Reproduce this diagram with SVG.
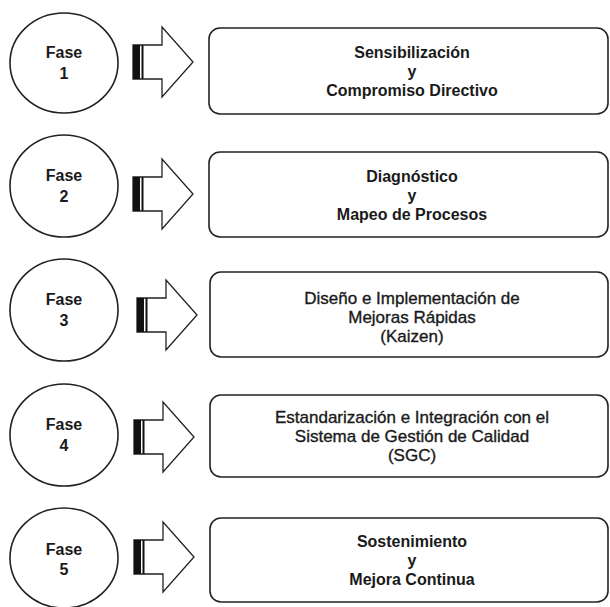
<svg xmlns="http://www.w3.org/2000/svg" width="610" height="607" viewBox="0 0 610 607">
<defs>
<style>
.c{fill:#fff;stroke:#222;stroke-width:1.6}
.b{fill:#fff;stroke:#222;stroke-width:1.6}
.a{fill:#fff;stroke:#222;stroke-width:1.3;stroke-linejoin:miter}
.t{font-family:"Liberation Sans",Arial,sans-serif;font-weight:bold;font-size:16px;fill:#1a1a1a;text-anchor:middle}
.r{font-family:"Liberation Sans",Arial,sans-serif;font-weight:normal;font-size:17px;fill:#1a1a1a;stroke:#1a1a1a;stroke-width:0.35;text-anchor:middle}
</style>
<g id="arrowShape">
<path class="a" d="M0,-17 H29 V-35 L60,0 L29,35 V17 H0 Z"/>
<rect x="0" y="-17" width="7" height="34" fill="#111"/>
<rect x="8.5" y="-17" width="2" height="34" fill="#111"/>
</g>
</defs>
<g id="connectors">
<use href="#arrowShape" transform="translate(133,62)"/>
<use href="#arrowShape" transform="translate(133,194)"/>
<use href="#arrowShape" transform="translate(137,315)"/>
<use href="#arrowShape" transform="translate(134,437)"/>
<use href="#arrowShape" transform="translate(134,557)"/>
</g>
<g id="phase1">
<ellipse class="c" cx="64" cy="63" rx="54" ry="50"/>
<text class="t" x="64" y="58">Fase</text>
<text class="t" x="64" y="79">1</text>
</g>
<g id="step1">
<rect class="b" x="209" y="28" width="399" height="86" rx="11"/>
<text class="t" x="412" y="58">Sensibilización</text>
<text class="t" x="412" y="77">y</text>
<text class="t" x="412" y="96">Compromiso Directivo</text>
</g>
<g id="phase2">
<ellipse class="c" cx="64" cy="186" rx="54" ry="51"/>
<text class="t" x="64" y="181">Fase</text>
<text class="t" x="64" y="202">2</text>
</g>
<g id="step2">
<rect class="b" x="209" y="152" width="399" height="85" rx="11"/>
<text class="t" x="412" y="182">Diagnóstico</text>
<text class="t" x="412" y="201">y</text>
<text class="t" x="412" y="220">Mapeo de Procesos</text>
</g>
<g id="phase3">
<ellipse class="c" cx="64" cy="310" rx="54" ry="51"/>
<text class="t" x="64" y="305">Fase</text>
<text class="t" x="64" y="326">3</text>
</g>
<g id="step3">
<rect class="b" x="210" y="272" width="398" height="85" rx="11"/>
<text class="r" x="412" y="304">Diseño e Implementación de</text>
<text class="r" x="412" y="323">Mejoras Rápidas</text>
<text class="r" x="412" y="342">(Kaizen)</text>
</g>
<g id="phase4">
<ellipse class="c" cx="64" cy="435" rx="54" ry="51"/>
<text class="t" x="64" y="430">Fase</text>
<text class="t" x="64" y="451">4</text>
</g>
<g id="step4">
<rect class="b" x="210" y="395" width="398" height="82" rx="11"/>
<text class="r" x="412" y="423">Estandarización e Integración con el</text>
<text class="r" x="412" y="442">Sistema de Gestión de Calidad</text>
<text class="r" x="412" y="461">(SGC)</text>
</g>
<g id="phase5">
<ellipse class="c" cx="64" cy="558" rx="54" ry="50"/>
<text class="t" x="64" y="555">Fase</text>
<text class="t" x="64" y="575">5</text>
</g>
<g id="step5">
<rect class="b" x="210" y="518" width="398" height="84" rx="11"/>
<text class="t" x="412" y="547">Sostenimiento</text>
<text class="t" x="412" y="566">y</text>
<text class="t" x="412" y="585">Mejora Continua</text>
</g>
</svg>
